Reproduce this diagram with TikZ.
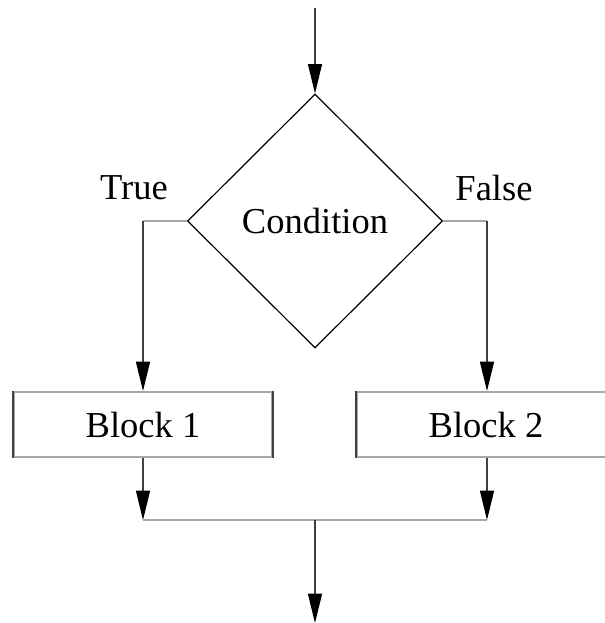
\documentclass[tikz,border=0pt]{standalone}
\usepackage{fontspec}
\setmainfont{Liberation Serif}
\usetikzlibrary{arrows.meta,shapes.geometric}
\begin{document}
\begin{tikzpicture}[x=0.75pt,y=-0.75pt,
  txt/.style={font=\fontsize{27.4}{30}\selectfont, inner sep=0pt},
  vline/.style={draw=black!75, line width=0.9pt},
  hline/.style={draw=black!35, line width=1.5pt},
  arr/.style={-{Triangle[length=22pt,width=10.5pt,color=black]}},
  blockbox/.style={draw=black!35, line width=1.5pt, minimum width=193.5pt, minimum height=48.75pt, inner sep=0pt, font=\fontsize{27.4}{30}\selectfont},
  cond/.style={diamond, draw=black, line width=0.9pt, minimum width=191.25pt, minimum height=190.5pt, inner sep=0pt, font=\fontsize{27.4}{30}\selectfont}]
\useasboundingbox (0,0) rectangle (605,623);
\clip (0,0) rectangle (605,623);
% nodes
\node[cond] (c) at (315,221) {Condition};
\node[blockbox] (b1) at (143,424.5) {Block 1};
\node[blockbox] (b2) at (486,424.5) {Block 2};
\draw[vline] (b1.north west) -- (b1.south west) (b1.north east) -- (b1.south east);
\draw[vline] (b2.north west) -- (b2.south west);
\node[txt] (t) at (134,188) {True};
\node[txt] (f) at (494,188) {False};
% coordinates
\coordinate (top) at (315,8);
\coordinate (lc) at (143,221);
\coordinate (rc) at (487,221);
\coordinate (jl) at (143,520);
\coordinate (jr) at (487,520);
\coordinate (jm) at (315,520);
\coordinate (bot) at (315,623);
% connectors
\draw[vline,arr] (top) -- (c.north);
\draw[hline] (c.west) -- (lc);
\draw[vline,arr] (lc) -- (b1.north);
\draw[hline] (c.east) -- (rc);
\draw[vline,arr] (rc) -- (rc |- b2.north);
\draw[vline,arr] (b1.south) -- (jl);
\draw[vline,arr] (rc |- b2.south) -- (jr);
\draw[hline] (jl) -- (jr);
\draw[vline,arr] (jm) -- (bot);
\end{tikzpicture}
\end{document}
